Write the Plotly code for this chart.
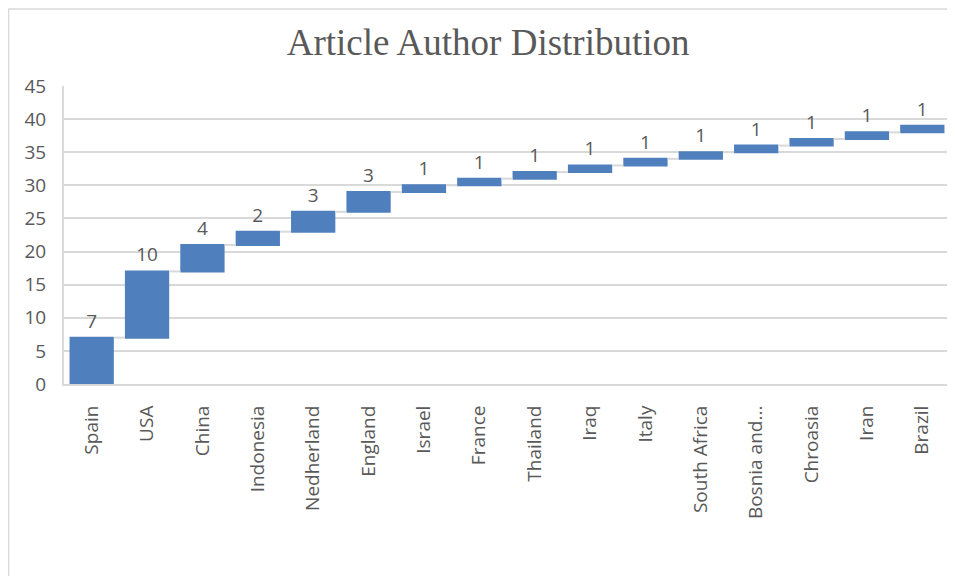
import plotly.graph_objects as go

countries = ["Spain", "USA", "China", "Indonesia", "Nedherland", "England", "Israel", "France",
             "Thailand", "Iraq", "Italy", "South Africa", "Bosnia and...", "Chroasia", "Iran", "Brazil"]
authors = [7, 10, 4, 2, 3, 3, 1, 1, 1, 1, 1, 1, 1, 1, 1, 1]
y_ticks = [0, 5, 10, 15, 20, 25, 30, 35, 40, 45]

BAR = "#4F80BD"
GRID = "#D9D9D9"
TXT = "#595959"
SANS = "Open Sans, Segoe UI, sans-serif"

fig = go.Figure(go.Waterfall(
    x=countries,
    y=authors,
    measure=["relative"] * len(authors),
    text=[str(v) for v in authors],
    textposition="outside",
    textfont=dict(family=SANS, size=19, color=TXT),
    increasing=dict(marker=dict(color=BAR, line=dict(width=0))),
    decreasing=dict(marker=dict(color=BAR, line=dict(width=0))),
    totals=dict(marker=dict(color=BAR, line=dict(width=0))),
    connector=dict(mode="between", line=dict(color=GRID, width=2)),
    cliponaxis=False,
    hoverinfo="x+y",
))

fig.update_layout(
    width=947, height=568,
    margin=dict(l=56, r=5, t=78, b=192),
    paper_bgcolor="white", plot_bgcolor="white",
    showlegend=False,
    bargap=0.33,
    title=dict(text="Article Author Distribution", x=0.507, xanchor="center", y=0.94, yanchor="middle",
               font=dict(family="Liberation Serif, Times New Roman, serif", size=37, color=TXT)),
    xaxis=dict(
        tickangle=-90, tickfont=dict(family=SANS, size=19, color=TXT),
        showgrid=False, showline=True, linecolor=GRID, linewidth=2,
        ticks="", ticklabelstandoff=12, fixedrange=True,
    ),
    yaxis=dict(
        range=[0, 45], tickvals=y_ticks, ticktext=[str(v) for v in y_ticks],
        tickfont=dict(family=SANS, size=19, color=TXT),
        showgrid=True, gridcolor=GRID, gridwidth=1.5,
        showline=True, linecolor=GRID, linewidth=2,
        zeroline=False, ticks="", ticklabelstandoff=12, fixedrange=True,
    ),
    shapes=[
        dict(type="line", xref="paper", yref="paper", x0=-0.0626, x1=1.01, y0=1.258, y1=1.258,
             line=dict(color=GRID, width=1.5)),
        dict(type="line", xref="paper", yref="paper", x0=-0.0626, x1=-0.0626, y0=1.26, y1=-0.7,
             line=dict(color=GRID, width=1.5)),
    ],
)

fig.write_html("out.html")
